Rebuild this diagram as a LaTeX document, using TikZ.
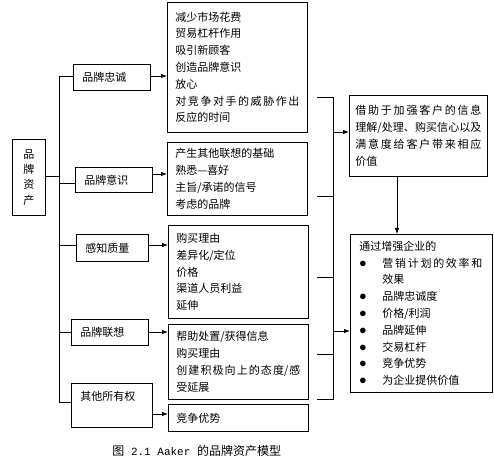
\documentclass[tikz,border=0pt]{standalone}
\usepackage{fontspec}
\setmainfont{Noto Sans CJK SC}
\newfontfamily\capmono{Liberation Mono}
\usepackage{tikz}
\usetikzlibrary{arrows.meta}
\XeTeXlinebreaklocale "zh"
\XeTeXlinebreakskip=0pt plus 2pt
\newcommand\bul{\makebox[23bp][l]{\fontsize{15bp}{0}\selectfont$\bullet$}}

\begin{document}
\begin{tikzpicture}[
  x=1bp, y=-1bp,
  font=\fontsize{11bp}{16.8bp}\selectfont,
  line width=0.8bp,
  tag/.style={draw,anchor=north west,inner xsep=9bp,inner ysep=0pt,align=left},
  detail/.style={draw,anchor=north west,inner xsep=8bp,inner ysep=0pt,text width=124bp,align=justify},
  arr/.style={-{Latex[length=6bp,width=4.5bp]}}
]
\useasboundingbox (0,0) rectangle (494,465);
% left column
\node[draw,anchor=north west,minimum width=33bp,minimum height=76bp,inner sep=0pt,align=center,
  font=\fontsize{11bp}{15.3bp}\selectfont] (root) at (12,139) {品\\牌\\资\\产};
\node[tag,text width=59bp,minimum height=26bp] (b1) at (73,64) {品牌忠诚};
\node[tag,text width=59bp,minimum height=25bp] (b2) at (75,167) {品牌意识};
\node[tag,text width=54bp,minimum height=27bp] (b3) at (76,234) {感知质量};
\node[tag,text width=59bp,minimum height=26bp] (b4) at (71,319) {品牌联想};
\node[tag,text width=63bp,text height=17bp,text depth=27bp] (b5) at (71,383) {其他所有权};
% middle column
\node[detail,minimum height=130bp] (dA) at (167,2)
  {减少市场花费\\贸易杠杆作用\\吸引新顾客\\创造品牌意识\\放心\\对竞争对手的威胁作出\linebreak 反应的时间};
\node[detail,minimum height=73bp] (dB) at (167,142)
  {产生其他联想的基础\\熟悉—喜好\\主旨/承诺的信号\\考虑的品牌};
\node[detail,minimum height=93bp] (dC) at (168,225)
  {购买理由\\差异化/定位\\价格\\渠道人员利益\\延伸};
\node[detail,minimum height=75bp] (dD) at (168,324)
  {帮助处置/获得信息\\购买理由\\创建积极向上的态度/感\linebreak 受延展};
\node[detail,minimum height=27bp] (dE) at (168,404) {竞争优势};
% right column
\node[detail,text width=126bp,inner xsep=6bp,minimum height=81bp] (vF) at (349,95)
  {借助于加强客户的信息\linebreak 理解/处理、购买信心以及\linebreak 满意度给客户带来相应\linebreak 价值};
\node[detail,inner xsep=9bp,minimum height=158bp,align=left] (vG) at (350,234)
  {通过增强企业的\\
   \bul\makebox[100bp][s]{营\hfil 销\hfil 计\hfil 划\hfil 的\hfil 效\hfil 率\hfil 和}\\
   \hspace*{23bp}效果\\
   \bul 品牌忠诚度\\
   \bul 价格/利润\\
   \bul 品牌延伸\\
   \bul 交易杠杆\\
   \bul 竞争优势\\
   \bul 为企业提供价值};
\node[anchor=west,inner sep=0pt,font=\fontsize{12bp}{14bp}\selectfont] (cap) at (112,451)
  {图{\capmono\fontsize{11bp}{13bp}\selectfont\ 2.1 Aaker }的品牌资产模型};
% tree
\coordinate (tk) at (59,176);
\draw (root.east |- tk) -- (tk);
\draw (tk |- 0,76) -- (tk |- 0,402);
\foreach \b/\d/\y/\a in {b1/dA/76/76, b2/dB/183/174, b3/dC/245/245, b4/dD/332/332, b5/dE/402/414} {
  \draw (tk |- 0,\y) -- (\b.west |- 0,\y);
  \draw[arr] (\b.east |- 0,\a) -- (\d.west |- 0,\a);
}
% bracket
\coordinate (bx) at (333,0);
\coordinate (sA) at (317,97);
\coordinate (sB) at (317,196);
\coordinate (sC) at (317,277);
\coordinate (sD) at (317,354);
\coordinate (sE) at (317,399);
\draw (sA) -- (sA -| bx) -- (sE -| bx) -- (sE);
\foreach \s in {sB,sC,sD}
  \draw (\s) -- (\s -| bx);
\draw[arr] (bx |- 0,132) -- (vF.west |- 0,132);
\draw[arr] (bx |- 0,331) -- (vG.west |- 0,331);
\draw[arr] (397,0 |- vF.south) -- (397,0 |- vG.north);
\end{tikzpicture}
\end{document}
